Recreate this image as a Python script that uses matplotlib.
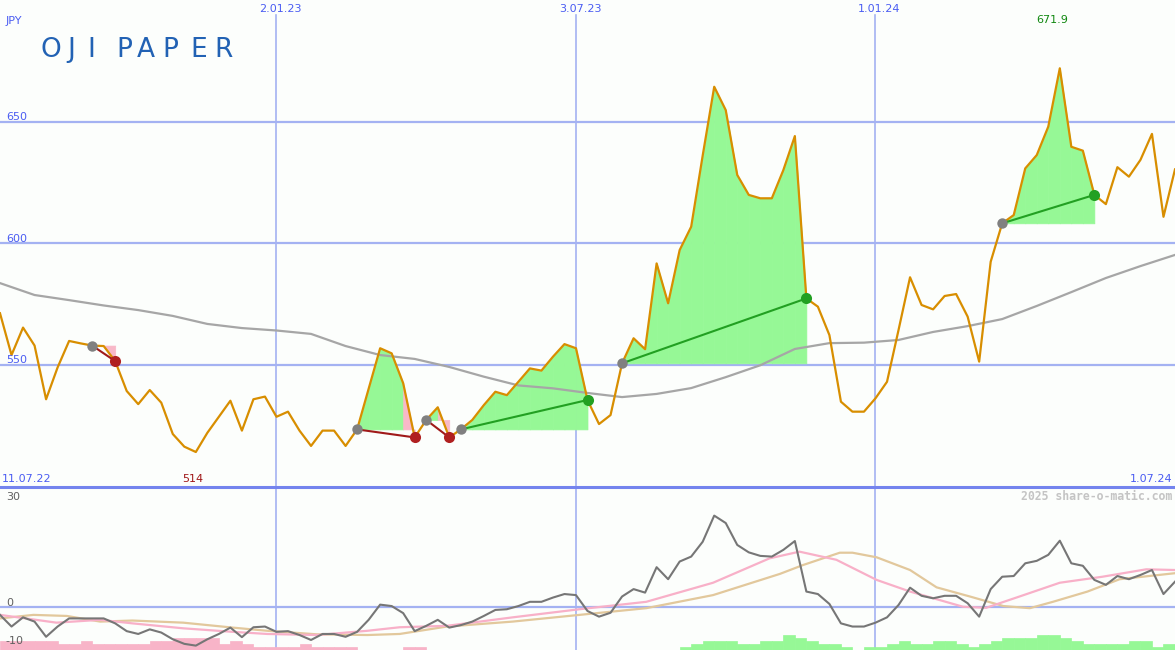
import numpy as np
import matplotlib
matplotlib.use("Agg")
import matplotlib.pyplot as plt
from matplotlib.lines import Line2D

# ---------------- data ----------------
price = [571.1, 553.9, 565.2, 557.8, 535.7, 548.8, 559.7, 558.7, 557.8, 557.6,
         551.4, 539.1, 533.7, 539.5, 534.3, 521.4, 516.2, 514.0, 521.9, 528.5,
         535.1, 522.8, 535.7, 536.8, 528.5, 530.6, 522.8, 516.5, 522.8, 522.8,
         516.5, 523.3, 540.0, 556.7, 554.6, 542.3, 520.0, 527.2, 532.4, 520.0,
         523.3, 527.2, 533.3, 538.8, 537.4, 542.9, 548.4, 547.5, 553.2, 558.4,
         556.7, 535.4, 525.5, 529.2, 550.5, 560.8, 556.3, 591.6, 575.2, 597.1,
         606.7, 636.0, 664.3, 654.7, 628.0, 619.8, 618.4, 618.4, 630.0, 644.0,
         577.2, 573.8, 562.1, 534.7, 530.6, 530.6, 536.1, 542.9, 564.2, 585.9,
         574.5, 572.7, 578.2, 579.0, 569.7, 551.2, 592.3, 608.1, 611.5, 630.7,
         636.2, 647.9, 671.9, 639.6, 638.0, 619.8, 616.0, 631.2, 627.3, 634.2,
         644.9, 610.8, 630.3]

ma_idx = list(range(0, 103, 3))
ma_val = [583.5, 578.6, 576.5, 574.3, 572.4, 570.0, 566.7, 565.0, 564.0, 562.6,
          557.6, 553.9, 552.3, 549.0, 545.0, 541.4, 540.2, 538.3, 536.6, 537.9,
          540.3, 544.8, 549.7, 556.4, 558.8, 559.0, 560.1, 563.4, 565.8, 568.7,
          574.1, 579.8, 585.6, 590.5, 595.1]

trade_entry = [8, 31, 37, 40, 54, 87]
trade_exit = [10, 36, 39, 51, 70, 95]

momentum = [-2.1, -5.4, -2.8, -4.0, -8.3, -5.4, -3.1, -3.1, -3.1, -3.1,
            -4.5, -6.7, -7.5, -6.2, -7.1, -9.0, -10.3, -10.8, -9.0, -7.5,
            -5.7, -8.4, -5.6, -5.4, -6.9, -6.7, -7.8, -9.2, -7.5, -7.5,
            -8.3, -6.9, -3.5, 0.8, 0.4, -1.6, -6.7, -5.2, -3.5, -5.7,
            -5.0, -4.0, -2.4, -0.7, -0.5, 0.4, 1.6, 1.6, 2.8, 3.8,
            3.5, -1.0, -2.6, -1.5, 3.1, 5.2, 4.2, 11.4, 8.0, 13.0,
            14.4, 18.6, 26.0, 23.9, 17.7, 15.6, 14.6, 14.4, 16.3, 18.8,
            4.5, 3.8, 1.0, -4.5, -5.4, -5.4, -4.3, -2.8, 0.7, 5.6,
            3.3, 2.6, 3.3, 3.3, 1.2, -2.6, 5.2, 8.7, 8.9, 12.5,
            13.2, 14.9, 18.9, 12.5, 11.8, 7.8, 6.4, 8.9, 8.0, 9.2,
            10.6, 3.8, 7.3]

pink_idx = [0, 2.9, 4.9, 8.7, 11.5, 15.9, 20.2, 23.2, 27.5, 31.9, 34.7, 38.8,
            44.5, 50.3, 56.1, 61.9, 66.8, 69.4, 72.6, 76.1, 79.0, 83.6, 85.6,
            88.5, 92.0, 95.7, 99.5, 102]
pink_val = [-2.1, -3.4, -4.3, -3.5, -4.5, -5.9, -6.9, -7.5, -7.8, -6.6, -5.6, -5.2,
            -2.8, -0.5, 1.6, 7.0, 13.9, 15.8, 13.5, 7.8, 4.5, 0.2, -0.1,
            3.1, 7.0, 8.7, 10.8, 10.6]

tan_idx = [0, 2.9, 5.8, 8.7, 11.5, 15.9, 20.2, 23.2, 27.5, 31.9, 34.7, 38.8,
           44.5, 50.3, 56.1, 61.9, 67.7, 69.7, 72.9, 74.0, 76.1, 79.0, 81.3,
           84.2, 87.1, 89.4, 91.4, 94.4, 97.2, 102]
tan_val = [-3.1, -2.1, -2.4, -4.0, -3.7, -4.3, -5.7, -6.6, -7.6, -7.8, -7.5, -5.4,
           -4.0, -2.1, -0.2, 3.5, 9.5, 12.0, 15.5, 15.5, 14.2, 10.6, 5.7,
           3.1, 0.4, -0.2, 1.6, 4.5, 8.0, 9.7]

bar_level = ([-3] * 5 + [-2] * 2 + [-3] + [-2] * 5 + [-3] * 2 + [-4] * 4 + [-2] + [-3] + [-2]
             + [-1] * 4 + [-2] + [-1] * 4 + [0] * 4 + [-1] * 2 + [0] * 22
             + [1, 2, 3, 3, 3, 2, 2, 3, 3, 5, 4, 3, 2, 2, 1, 0, 1, 1, 2, 3, 2, 2, 3, 3, 2,
                1, 2, 3, 4, 4, 4, 5, 5, 4, 3, 2, 2, 2, 2, 3, 3, 1, 2])

price_ticks = [550, 600, 650]
osc_ticks = [30, 0, -10]
date_idx = [24, 50, 76]
date_lbl = ["2.01.23", "3.07.23", "1.01.24"]
start_lbl, end_lbl = "11.07.22", "1.07.24"
title = "OJI PAPER"
currency = "JPY"
credit = "2025 share-o-matic.com"

# ---------------- style ----------------
W, H = 1175, 650
BG = "#fcfefc"
GRID = "#a4b2f2"
SEP = "#7484ee"
LBL = "#4a5cf2"
ORANGE = "#d88e00"
GREEN_FILL = "#96f896"
PINK_FILL = "#f8b8c8"

fig = plt.figure(figsize=(W / 100, H / 100), dpi=100, facecolor=BG)
ax = fig.add_axes([0, 163 / H, 1, 487 / H])
ax2 = fig.add_axes([0, 0, 1, 163 / H])
for a in (ax, ax2):
    a.set_facecolor(BG)
    a.set_xlim(0, len(price) - 1)
    a.set_xticks([])
    a.set_yticks([])
    for s in a.spines.values():
        s.set_visible(False)

ax.set_ylim(499.6, 700.0)
ax2.set_ylim(-12.04, 34.1)

x = np.arange(len(price))
p = np.array(price)

# grid
for t in price_ticks:
    ax.axhline(t, color=GRID, lw=1.6, zorder=1)
for xi in date_idx:
    ax.axvline(xi, ymax=1 - 15 / 487, color=GRID, lw=1.2, zorder=1)
    ax2.axvline(xi, color=GRID, lw=1.2, zorder=1)
ax2.axhline(0, color=GRID, lw=1.6, zorder=1)
fig.add_artist(Line2D([0, 1], [163 / H, 163 / H], color=SEP, lw=2.2, zorder=5))

# trade fills
for e, xo in zip(trade_entry, trade_exit):
    lvl = p[e]
    for k in range(e, xo):
        col = GREEN_FILL if p[k + 1] >= lvl else PINK_FILL
        ax.fill_between([k, k + 1], [p[k], p[k + 1]], lvl, facecolor=col,
                        edgecolor=col, lw=0.5, zorder=2)

# moving average and price
ax.plot(ma_idx, ma_val, color="#a6a6a6", lw=1.6, zorder=3)
ax.plot(x, p, color=ORANGE, lw=1.6, zorder=4)

# trade lines and markers
for e, xo in zip(trade_entry, trade_exit):
    win = p[xo] > p[e]
    lc = "#22a022" if win else "#a01a1a"
    mc = "#22a022" if win else "#b02020"
    ax.plot([e, xo], [p[e], p[xo]], color=lc, lw=1.5, zorder=5)
    ax.plot([e], [p[e]], "o", color="#808080", ms=7.5, mec="none", zorder=6)
    ax.plot([xo], [p[xo]], "o", color=mc, ms=8, mec="none", zorder=6)

# oscillator panel
unit = 0.85
for k, lv in enumerate(bar_level):
    if lv != 0:
        c = GREEN_FILL if lv > 0 else "#f8b4c8"
        ax2.bar(k, abs(lv) * unit, bottom=-12.04, width=1, align="edge",
                facecolor=c, edgecolor=c, lw=0.5, zorder=2)
ax2.plot(tan_idx, tan_val, color="#e2c89c", lw=1.6, zorder=3)
ax2.plot(pink_idx, pink_val, color="#f8b0c8", lw=1.6, zorder=3)
ax2.plot(x, momentum, color="#767676", lw=1.5, zorder=4)

# ---------------- text ----------------
def ftext(px, py, s, **kw):
    fig.text(px / W, 1 - py / H, s, **kw)

fs = 8
ftext(6, 21, currency, color=LBL, fontsize=fs, va="center", ha="left")
for t in price_ticks:
    ax.text(0.005, t - 0.2, str(t), transform=ax.get_yaxis_transform(),
            color=LBL, fontsize=fs, va="bottom", ha="left", zorder=7)
for xi, s in zip(date_idx, date_lbl):
    ax.text(xi + 0.35, 1 - 8.5 / 487, s, transform=ax.get_xaxis_transform(),
            color=LBL, fontsize=fs, va="center", ha="center")
ftext(2, 479, start_lbl, color=LBL, fontsize=fs, va="center", ha="left")
ftext(1172, 479, end_lbl, color=LBL, fontsize=fs, va="center", ha="right")

imin = int(np.argmin(p))
imax = int(np.argmax(p))
ax.text(imin - 0.3, 499.6 + 8 / 2.43, f"{p[imin]:g}", color="#a01818", fontsize=fs,
        ha="center", va="center")
ax.text(imax - 0.7, 700 - 20 / 2.43, f"{p[imax]:g}", color="#108810", fontsize=fs,
        ha="center", va="center")

for t in osc_ticks:
    if t == -10:
        ax2.text(0.005, -9.5, str(t), transform=ax2.get_yaxis_transform(),
                 color="#606060", fontsize=fs, va="center", ha="left")
    else:
        ax2.text(0.005, t - 0.1, str(t), transform=ax2.get_yaxis_transform(),
                 color="#606060", fontsize=fs, va="bottom", ha="left")
ftext(1172, 496, credit, color="#c4c4c4", fontsize=8.3, family="DejaVu Sans Mono",
      fontweight="bold", ha="right", va="center")

letters_x = [40, 67, 87, 116, 137, 162, 190, 214]
for ch, lx in zip(title.replace(" ", ""), letters_x):
    ftext(lx, 50, ch, color="#2262b4", fontsize=19, family="DejaVu Sans",
          ha="left", va="center")

fig.savefig("out.png", dpi=100, facecolor=BG)
